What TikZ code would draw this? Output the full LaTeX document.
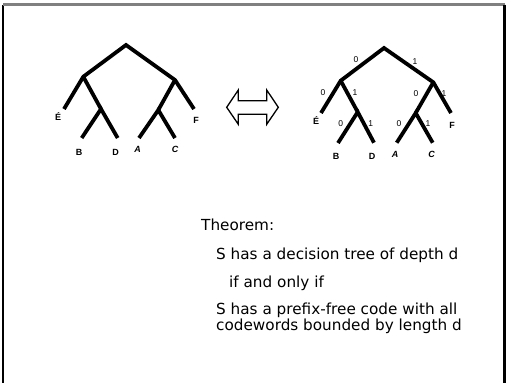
\documentclass[tikz,border=0pt]{standalone}
\usepackage{fontspec}
\setmainfont{Liberation Sans}
\newfontfamily\txtfont{DejaVu Sans}
\begin{document}
\begin{tikzpicture}[x=1bp,y=-1bp,
  edge/.style={line width=3.8bp},
  leaf/.style={font=\fontsize{9}{9}\selectfont\bfseries, inner sep=0pt},
  leafit/.style={leaf, font=\fontsize{9}{9}\selectfont\bfseries\itshape},
  bit/.style={font=\fontsize{8.5}{9}\selectfont, inner sep=0pt},
  txt/.style={font=\txtfont\fontsize{15.3}{16}\selectfont, anchor=west, inner sep=0pt}]
\useasboundingbox (0,0) rectangle (508,382);
% frame
\draw[line width=2.5bp] (3,390) -- (3,4.5);
\draw[line width=2.5bp, gray] (3,4.5) -- (504.5,4.5);
\draw[line width=2.5bp] (504.5,4.5) -- (504.5,390);
% left tree
\coordinate (r1) at (126,45);
\coordinate (l1) at (83.3,76.7);
\coordinate (q1) at (175,80);
\coordinate (e1) at (64,109);
\coordinate (m1) at (101,109);
\coordinate (b1) at (81.7,138);
\coordinate (d1) at (117.7,138);
\coordinate (n1) at (158.3,110);
\coordinate (a1) at (139,138);
\coordinate (c1) at (175,138);
\coordinate (f1) at (194,109);
\draw[edge] (e1) -- (l1) -- (r1) -- (q1) -- (f1);
\draw[edge] (l1) -- (m1);
\draw[edge] (b1) -- (m1) -- (d1);
\draw[edge] (q1) -- (n1);
\draw[edge] (a1) -- (n1) -- (c1);
\node[leaf] (E1) at (58,117) {É};
\node[leaf] (B1) at (79,152) {B};
\node[leaf] (D1) at (115.7,152) {D};
\node[leafit] (A1) at (137.7,149) {A};
\node[leafit] (C1) at (175,149) {C};
\node[leaf] (F1) at (196,120) {F};
% double arrow
\draw[line width=1.3bp] (226.7,107.3) -- (238.3,90) -- (238.3,100.7) -- (266.7,100.7) -- (266.7,90)
  -- (278.3,107.3) -- (266.7,124.3) -- (266.7,114.3) -- (238.3,114.3) -- (238.3,124.3) -- cycle;
% right tree
\coordinate (r2) at (384,48);
\coordinate (l2) at (340.7,80.7);
\coordinate (q2) at (433.3,82.3);
\coordinate (e2) at (321,113);
\coordinate (m2) at (357.7,112);
\coordinate (b2) at (338,143);
\coordinate (d2) at (374,142.7);
\coordinate (n2) at (415.7,113);
\coordinate (a2) at (396.7,142.7);
\coordinate (c2) at (432.7,142.7);
\coordinate (f2) at (451,113);
\draw[edge] (e2) -- (l2) -- (r2) -- (q2) -- (f2);
\draw[edge] (l2) -- (m2);
\draw[edge] (b2) -- (m2) -- (d2);
\draw[edge] (q2) -- (n2);
\draw[edge] (a2) -- (n2) -- (c2);
\node[leaf] (E2) at (316,121) {É};
\node[leaf] (B2) at (336,156) {B};
\node[leaf] (D2) at (372,156) {D};
\node[leafit] (A2) at (395,154) {A};
\node[leafit] (C2) at (431.7,154) {C};
\node[leaf] (F2) at (452,125) {F};
\node[bit] (z1) at (356,60) {0};
\node[bit] (o1) at (415,61.7) {1};
\node[bit] (z2) at (323,93) {0};
\node[bit] (o2) at (355,93) {1};
\node[bit] (z3) at (416,94) {0};
\node[bit] (o3) at (444,94) {1};
\node[bit] (z4) at (340.7,124) {0};
\node[bit] (o4) at (370.7,124) {1};
\node[bit] (z5) at (399,124) {0};
\node[bit] (o5) at (428,124) {1};
% text
\node[txt] (t1) at (201,225) {Theorem:};
\node[txt] (t2) at (216,255) {S has a decision tree of depth d};
\node[txt] (t3) at (229,283) {if and only if};
\node[txt] (t4) at (216,310) {S has a prefix-free code with all};
\node[txt] (t5) at (216,326.5) {codewords bounded by length d};
\end{tikzpicture}
\end{document}
